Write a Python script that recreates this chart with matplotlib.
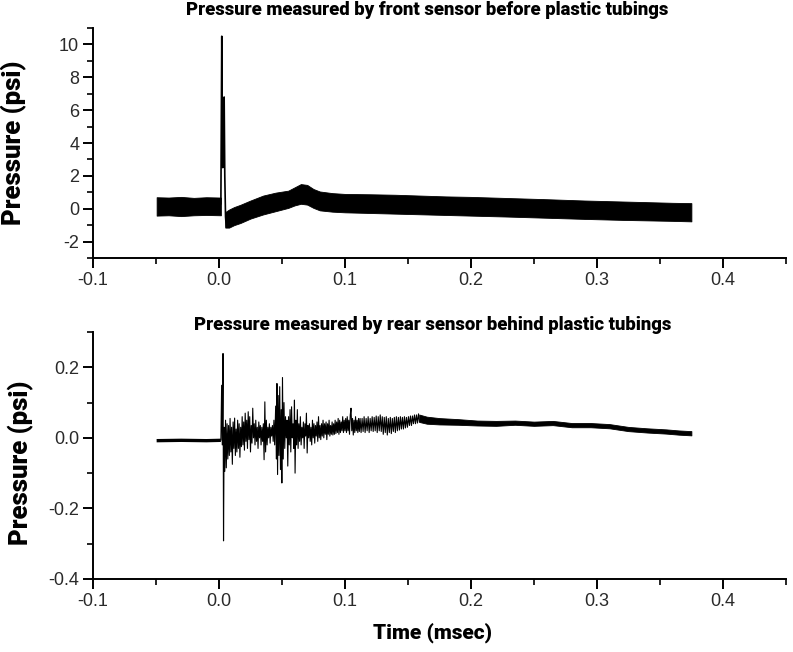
import matplotlib
matplotlib.use("Agg")
import matplotlib.pyplot as plt
from matplotlib.ticker import MultipleLocator, FormatStrFormatter

plt.rcParams['axes.unicode_minus'] = False
plt.rcParams['font.family'] = ['Liberation Sans', 'DejaVu Sans']

# ---------------- data ----------------
# Top panel: front sensor -- noisy band envelope before the spike
pre_t = [-0.0495, -0.040, -0.030, -0.020, -0.010, 0.0015]
pre_hi = [0.70, 0.68, 0.72, 0.66, 0.70, 0.68]
pre_lo = [-0.42, -0.40, -0.45, -0.40, -0.38, -0.40]
# spike trace
spike_t = [0.0015, 0.0022, 0.0024, 0.0030, 0.0036, 0.0041, 0.0046, 0.0052, 0.0058]
spike_p = [0.3, 10.5, 7.8, 2.5, 3.0, 6.8, 2.0, -0.5, -1.1]
# band envelope after the spike
post_t = [0.005, 0.008, 0.012, 0.017, 0.025, 0.035, 0.045, 0.055, 0.060, 0.065, 0.070,
          0.075, 0.080, 0.090, 0.100, 0.120, 0.140, 0.160, 0.180, 0.200, 0.230, 0.260,
          0.290, 0.320, 0.340, 0.360, 0.375]
post_hi = [-0.20, -0.05, 0.10, 0.24, 0.50, 0.80, 0.98, 1.10, 1.30, 1.50, 1.45,
           1.20, 1.05, 0.95, 0.90, 0.88, 0.85, 0.80, 0.75, 0.72, 0.65, 0.58,
           0.50, 0.44, 0.40, 0.36, 0.34]
post_lo = [-1.15, -1.15, -1.00, -0.87, -0.60, -0.35, -0.15, 0.05, 0.20, 0.30, 0.25,
           0.05, -0.10, -0.18, -0.22, -0.26, -0.30, -0.34, -0.38, -0.42, -0.48, -0.55,
           -0.62, -0.68, -0.71, -0.74, -0.77]

# Bottom panel: rear sensor -- quiet baseline before arrival
base_t = [-0.0495, -0.030, -0.010, 0.0015]
base_p = [-0.008, -0.007, -0.008, -0.007]
# oscillating trace (alternating extremes)
osc_t = [0.0015, 0.0021, 0.0026, 0.0032, 0.0036, 0.0041, 0.0046,
         0.0052, 0.0058, 0.0064, 0.0070, 0.0076, 0.0082, 0.0088, 0.0094, 0.0100, 0.0106,
         0.0112, 0.0118, 0.0124, 0.0130, 0.0136, 0.0142, 0.0148, 0.0154, 0.0160, 0.0166,
         0.0172, 0.0178, 0.0184, 0.0190, 0.0196, 0.0202, 0.0208, 0.0214, 0.0220, 0.0226,
         0.0232, 0.0238, 0.0244, 0.0250, 0.0256, 0.0262, 0.0268, 0.0274, 0.0280, 0.0286,
         0.0292, 0.0298, 0.0304, 0.0310, 0.0316, 0.0322, 0.0328, 0.0334, 0.0340, 0.0346,
         0.0352, 0.0358, 0.0364, 0.0370, 0.0376, 0.0382, 0.0388, 0.0394, 0.0400, 0.0406,
         0.0412, 0.0418, 0.0424, 0.0430, 0.0436, 0.0442,
         0.0450, 0.0456, 0.0460, 0.0465, 0.0470, 0.0476, 0.0482, 0.0488, 0.0494, 0.0499,
         0.0504, 0.0510, 0.0516, 0.0522, 0.0528, 0.0534, 0.0540, 0.0546, 0.0552, 0.0558,
         0.0564, 0.0570, 0.0576, 0.0582, 0.0588, 0.0594, 0.0599, 0.0604, 0.0610, 0.0616,
         0.0622, 0.0628, 0.0634, 0.0640, 0.0646, 0.0652, 0.0658, 0.0664, 0.0670, 0.0676,
         0.0682, 0.0688, 0.0694, 0.0700, 0.0706, 0.0712, 0.0718, 0.0724, 0.0730, 0.0736,
         0.0742, 0.0748, 0.0754, 0.0760, 0.0766, 0.0772, 0.0778, 0.0784, 0.0790, 0.0796,
         0.0802, 0.0808, 0.0814, 0.0820, 0.0826, 0.0832, 0.0838, 0.0844, 0.0850, 0.0856,
         0.0862, 0.0868, 0.0874, 0.0880, 0.0886, 0.0892, 0.0898, 0.0904, 0.0910, 0.0916,
         0.0922, 0.0928, 0.0934, 0.0940, 0.0946, 0.0952, 0.0958, 0.0964, 0.0970, 0.0976,
         0.0982, 0.0988, 0.0994, 0.1000, 0.1006, 0.1012, 0.1018, 0.1024, 0.1030, 0.1036,
         0.1042, 0.1048, 0.1054, 0.1060, 0.1066, 0.1072, 0.1078, 0.1084, 0.1090, 0.1096,
         0.1102, 0.1108, 0.1114,
         0.1120, 0.1128, 0.1136, 0.1144, 0.1152, 0.1160, 0.1168, 0.1176, 0.1184, 0.1192,
         0.1200, 0.1208, 0.1216, 0.1224, 0.1232, 0.1240, 0.1248, 0.1256, 0.1264, 0.1272,
         0.1280, 0.1288, 0.1296, 0.1304, 0.1312, 0.1320, 0.1328, 0.1336, 0.1344, 0.1352,
         0.1360, 0.1368, 0.1376, 0.1384, 0.1392, 0.1400, 0.1408, 0.1416, 0.1424, 0.1432,
         0.1440, 0.1448, 0.1456, 0.1464, 0.1472, 0.1480, 0.1488, 0.1496, 0.1504, 0.1512,
         0.1520, 0.1528, 0.1536, 0.1544, 0.1552, 0.1560, 0.1568, 0.1576, 0.1584, 0.1592]
osc_p = [-0.006, 0.149, -0.020, 0.239, -0.292, 0.030, -0.095,
         0.050, -0.085, 0.040, -0.060, 0.035, -0.050, 0.055, -0.040, 0.030, -0.075,
         0.045, -0.030, 0.056, -0.050, 0.025, -0.040, 0.050, -0.030, 0.040, -0.055,
         0.030, -0.025, 0.060, -0.020, 0.045, -0.035, 0.070, -0.010, 0.050, -0.030,
         0.074, -0.005, 0.060, -0.040, 0.035, -0.015, 0.084, 0.000, 0.040, -0.020,
         0.050, -0.010, 0.030, -0.030, 0.045, 0.000, 0.035, -0.020, 0.030, -0.010,
         0.040, -0.062, 0.102, -0.040, 0.050, -0.020, 0.030, 0.000, 0.040, -0.015,
         0.030, 0.005, 0.035, -0.010, 0.050, -0.020,
         0.090, -0.060, 0.154, -0.104, 0.120, -0.050, 0.145, -0.090, 0.080, -0.128,
         0.171, -0.060, 0.100, -0.030, 0.060, 0.000, 0.050, -0.080, 0.060, -0.020,
         0.080, -0.040, 0.088, 0.000, 0.040, -0.030, 0.107, -0.100, 0.050, -0.020,
         0.080, -0.030, 0.040, -0.010, 0.060, -0.020, 0.030, 0.000, 0.045, -0.030,
         0.040, 0.005, 0.070, -0.043, 0.035, 0.000, 0.040, -0.010, 0.030, -0.020,
         0.050, 0.000, 0.040, -0.015, 0.035, 0.005, 0.045, -0.010, 0.060, 0.000,
         0.035, -0.005, 0.040, 0.005, 0.050, 0.000, 0.040, 0.010, 0.045, -0.005,
         0.040, 0.010, 0.050, 0.005, 0.035, 0.010, 0.045, 0.008, 0.040, 0.010,
         0.050, 0.012, 0.045, 0.015, 0.055, 0.010, 0.050, 0.015, 0.045, 0.020,
         0.060, 0.015, 0.050, 0.020, 0.055, 0.015, 0.060, 0.020, 0.050, 0.010,
         0.065, 0.084, 0.020, 0.055, 0.008, 0.050, 0.015, 0.060, 0.020, 0.050,
         0.015, 0.055, 0.018,
         0.055, 0.015, 0.055, 0.018, 0.060, 0.015, 0.055, 0.020, 0.060, 0.015,
         0.055, 0.020, 0.060, 0.018, 0.058, 0.020, 0.062, 0.015, 0.060, 0.020,
         0.065, 0.018, 0.060, 0.010, 0.058, 0.015, 0.060, 0.008, 0.055, 0.015,
         0.058, 0.012, 0.055, 0.018, 0.058, 0.015, 0.060, 0.020, 0.058, 0.022,
         0.060, 0.025, 0.058, 0.025, 0.060, 0.028, 0.058, 0.030, 0.060, 0.035,
         0.062, 0.035, 0.062, 0.040, 0.065, 0.040, 0.065, 0.042, 0.068, 0.045]
# smooth tail band
tail_t = [0.159, 0.165, 0.175, 0.190, 0.205, 0.220, 0.235, 0.250, 0.265, 0.280,
          0.295, 0.310, 0.325, 0.340, 0.355, 0.365, 0.375]
tail_hi = [0.066, 0.060, 0.056, 0.053, 0.049, 0.048, 0.049, 0.046, 0.048, 0.042,
           0.042, 0.039, 0.031, 0.027, 0.024, 0.021, 0.019]
tail_lo = [0.045, 0.040, 0.038, 0.037, 0.035, 0.034, 0.037, 0.034, 0.036, 0.030,
           0.030, 0.027, 0.019, 0.015, 0.012, 0.009, 0.007]

top_title = "Pressure measured by front sensor before plastic tubings"
bot_title = "Pressure measured by rear sensor behind plastic tubings"
ylabel = "Pressure (psi)"
xlabel = "Time (msec)"

# ---------------- figure ----------------
fig = plt.figure(figsize=(7.93, 6.52), dpi=100)
ax1 = fig.add_axes([0.1173, 0.6043, 0.8737, 0.3527])
ax2 = fig.add_axes([0.1173, 0.1120, 0.8737, 0.3788])

heavy = dict(family=['Roboto', 'DejaVu Sans'], weight='heavy')
ink = 'black'

# top
ax1.fill_between(pre_t, pre_lo, pre_hi, color=ink, lw=0.6, edgecolor=ink)
ax1.plot(spike_t, spike_p, color=ink, lw=1.2)
ax1.fill_between(post_t, post_lo, post_hi, color=ink, lw=0.6, edgecolor=ink)
ax1.set_ylim(-3, 11)
ax1.yaxis.set_major_locator(MultipleLocator(2))
ax1.yaxis.set_minor_locator(MultipleLocator(1))
ax1.yaxis.set_major_formatter(FormatStrFormatter('%d'))

# bottom
ax2.plot(base_t, base_p, color=ink, lw=2.4, solid_capstyle='butt')
ax2.plot(osc_t, osc_p, color=ink, lw=0.8)
ax2.fill_between(tail_t, tail_lo, tail_hi, color=ink, lw=0.6, edgecolor=ink)
ax2.set_ylim(-0.4, 0.3)
ax2.yaxis.set_major_locator(MultipleLocator(0.2))
ax2.yaxis.set_minor_locator(MultipleLocator(0.1))
ax2.yaxis.set_major_formatter(FormatStrFormatter('%.1f'))

for ax in (ax1, ax2):
    ax.set_xlim(-0.1, 0.45)
    ax.xaxis.set_major_locator(MultipleLocator(0.1))
    ax.xaxis.set_minor_locator(MultipleLocator(0.05))
    ax.xaxis.set_major_formatter(FormatStrFormatter('%.1f'))
    for s in ('top', 'right'):
        ax.spines[s].set_visible(False)
    for s in ('left', 'bottom'):
        ax.spines[s].set_linewidth(1.4)
    ax.tick_params(which='major', direction='out', length=7, width=1.4, pad=3,
                   labelsize=13, labelcolor='#2a2a2a')
    ax.tick_params(which='minor', direction='out', length=4, width=1.2)

fig.text(0.539, 0.977, top_title, ha='center', va='baseline', fontsize=13.3, **heavy)
fig.text(0.546, 0.494, bot_title, ha='center', va='baseline', fontsize=13.3, **heavy)
fig.text(0.017, 0.781, ylabel, rotation=90, ha='center', va='center', fontsize=18.5, **heavy)
fig.text(0.027, 0.291, ylabel, rotation=90, ha='center', va='center', fontsize=18.5, **heavy)
fig.text(0.545, 0.029, xlabel, ha='center', va='center', fontsize=15, **heavy)

fig.savefig('out.png', dpi=100)
